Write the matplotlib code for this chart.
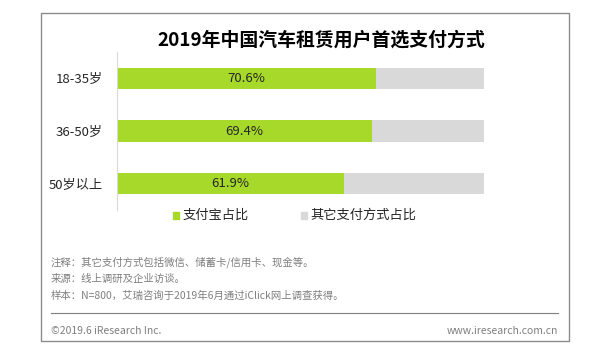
"""2019年中国汽车租赁用户首选支付方式 - stacked horizontal bar chart."""

import matplotlib
matplotlib.use("Agg")
import matplotlib.pyplot as plt
from matplotlib.patches import Rectangle
from matplotlib.lines import Line2D

plt.rcParams["font.family"] = ["Noto Sans CJK SC", "DejaVu Sans"]

# data
age_groups = ["18-35岁", "36-50岁", "50岁以上"]
alipay_share = [70.6, 69.4, 61.9]
other_share = [100 - v for v in alipay_share]
series_names = ["支付宝占比", "其它支付方式占比"]

title = "2019年中国汽车租赁用户首选支付方式"
notes = [
    "注释：其它支付方式包括微信、储蓄卡/信用卡、现金等。",
    "来源：线上调研及企业访谈。",
    "样本：N=800，艾瑞咨询于2019年6月通过iClick网上调查获得。",
]
footer_left = "©2019.6 iResearch Inc."
footer_right = "www.iresearch.com.cn"

GREEN = "#A6D92A"
GREY = "#D9D9D9"

W, H = 606, 357
fig = plt.figure(figsize=(W / 100, H / 100), dpi=100)


def fx(px):
    return px / W


def fy(py):
    return 1 - py / H


# outer frame
fig.add_artist(Rectangle((fx(40.7), fy(340.7)), fx(569) - fx(40.7), fy(13.3) - fy(340.7),
                         transform=fig.transFigure, fill=False, edgecolor="#8c8c8c", linewidth=1.0))

ax = fig.add_axes([fx(117), fy(210), fx(484) - fx(117), fy(52) - fy(210)])
ypos = list(range(len(age_groups)))
bars = ax.barh(ypos, alipay_share, height=0.4, color=GREEN, label=series_names[0])
ax.barh(ypos, other_share, left=alipay_share, height=0.4, color=GREY, label=series_names[1])

for bar, val in zip(bars, alipay_share):
    ax.text(bar.get_width() / 2, bar.get_y() + bar.get_height() / 2, f"{val}%",
            ha="center", va="center", fontsize=9.5, color="#262626")

ax.set_xlim(0, 100)
ax.set_ylim(len(age_groups) - 0.5, -0.5)
ax.set_yticks(ypos)
ax.set_yticklabels(age_groups, fontsize=9.5, color="#262626")
ax.tick_params(axis="y", length=0, pad=10)
ax.set_xticks([])
for side in ["top", "right", "bottom"]:
    ax.spines[side].set_visible(False)
ax.spines["left"].set_color("#d9d9d9")

fig.text(fx(321), fy(40), title, ha="center", va="center", fontsize=13.6, fontweight="bold", color="#000000")

# legend drawn by hand to match spacing
legend_items = [(GREEN, series_names[0], 172.7), (GREY, series_names[1], 300.7)]
for color, label, x0 in legend_items:
    fig.add_artist(Rectangle((fx(x0), fy(219)), fx(6.5), fy(212) - fy(219),
                             transform=fig.transFigure, color=color))
    fig.text(fx(x0 + 10), fy(215.5), label, ha="left", va="center", fontsize=9.5, color="#262626")

for text, py in zip(notes, [262, 279, 295.5]):
    fig.text(fx(50.5), fy(py), text, ha="left", va="center", fontsize=7.5, color="#7f7f7f")

fig.add_artist(Line2D([fx(50.5), fx(558)], [fy(313), fy(313)], transform=fig.transFigure,
                      color="#7f7f7f", linewidth=0.8))
fig.text(fx(51), fy(331.5), footer_left, ha="left", va="center", fontsize=7.5, color="#7f7f7f")
fig.text(fx(558), fy(331.5), footer_right, ha="right", va="center", fontsize=7.5, color="#7f7f7f")

fig.savefig("out.png", dpi=100, facecolor="white")
